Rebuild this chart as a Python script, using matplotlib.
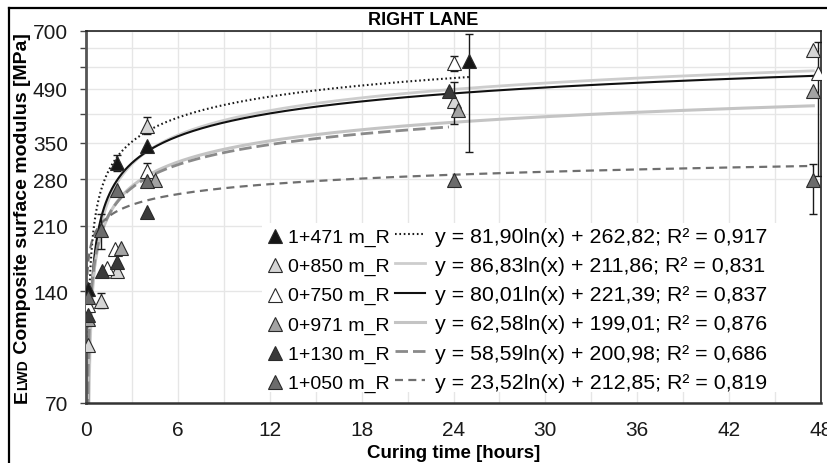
import numpy as np
import matplotlib
matplotlib.use("Agg")
import matplotlib.pyplot as plt
from matplotlib.lines import Line2D
from matplotlib.patches import Rectangle
from matplotlib.legend_handler import HandlerLine2D
from matplotlib.ticker import FixedLocator, NullLocator, MultipleLocator

plt.rcParams['font.family'] = ['Liberation Sans', 'DejaVu Sans']

# ---- data -------------------------------------------------------------
stations = ['1+471 m_R', '0+850 m_R', '0+750 m_R', '0+971 m_R', '1+130 m_R', '1+050 m_R']

# logarithmic trend coefficients  y = a*ln(x) + b
slopes = [81.90, 86.83, 80.01, 62.58, 58.59, 23.52]
intercepts = [262.82, 211.86, 221.39, 199.01, 200.98, 212.85]
r_squared = [0.917, 0.831, 0.837, 0.876, 0.686, 0.819]

# curing time [h] and measured modulus [MPa] per station
t_1471 = [0.1, 2.0, 4.0, 25.0]
e_1471 = [142, 309, 343, 580]
err_lo_1471 = [0, 15, 0, 250]
err_hi_1471 = [0, 15, 0, 107]

t_0850 = [0.1, 1.0, 2.0, 4.0, 24.0, 47.5]
e_0850 = [100, 132, 158, 390, 453, 622]
err_lo_0850 = [0, 6, 0, 20, 59, 0]
err_hi_0850 = [0, 6, 0, 20, 59, 0]

t_0750 = [0.1, 1.4, 1.9, 4.0, 24.0, 47.8]
e_0750 = [128, 161, 182, 295, 574, 539]
err_lo_0750 = [0, 0, 0, 14, 26, 254]
err_hi_0750 = [0, 0, 0, 14, 26, 115]

t_0971 = [0.1, 2.3, 4.5, 24.3, 47.5]
e_0971 = [118, 183, 278, 429, 482]
err_lo_0971 = [0, 0, 0, 0, 0]
err_hi_0971 = [0, 0, 0, 0, 0]

t_1130 = [0.1, 1.05, 2.0, 4.0, 23.7]
e_1130 = [121, 158, 168, 229, 482]
err_lo_1130 = [0, 0, 0, 0, 0]
err_hi_1130 = [0, 0, 0, 0, 0]

t_1050 = [0.1, 1.0, 2.0, 4.0, 24.0, 47.5]
e_1050 = [135, 204, 261, 276, 278, 278]
err_lo_1050 = [0, 22, 0, 0, 0, 52]
err_hi_1050 = [0, 22, 0, 0, 0, 29]

times = [t_1471, t_0850, t_0750, t_0971, t_1130, t_1050]
moduli = [e_1471, e_0850, e_0750, e_0971, e_1130, e_1050]
errs_lo = [err_lo_1471, err_lo_0850, err_lo_0750, err_lo_0971, err_lo_1130, err_lo_1050]
errs_hi = [err_hi_1471, err_hi_0850, err_hi_0750, err_hi_0971, err_hi_1130, err_hi_1050]

y_grid_values = [70, 140, 210, 280, 350, 420, 490, 560, 630, 700]
y_labelled = [70, 140, 210, 280, 350, 490, 700]
x_ticks = [0, 6, 12, 18, 24, 30, 36, 42, 48]

# ---- styles -------------------------------------------------------------
marker_colors = ['#161616', '#d6d6d6', '#ffffff', '#a3a3a3', '#3a3a3a', '#6c6c6c']
trend_styles = [
    dict(color='#1a1a1a', lw=1.5, ls=(0, (0.8, 1.3))),
    dict(color='#cdcdcd', lw=2.0, ls='-'),
    dict(color='#111111', lw=1.5, ls='-'),
    dict(color='#c4c4c4', lw=2.2, ls='-'),
    dict(color='#8a8a8a', lw=2.0, ls=(0, (4.5, 1.8))),
    dict(color='#6f6f6f', lw=1.6, ls=(0, (3.6, 2.4))),
]

W, H = 827, 464
AX_L, AX_R, AX_T, AX_B = 86, 821, 32, 404
fig = plt.figure(figsize=(W / 100, H / 100), dpi=100)
ax = fig.add_axes([AX_L / W, (H - AX_B) / H, (AX_R - AX_L) / W, (AX_B - AX_T) / H])


def ax_frac(px, py):
    """pixel position (from top-left of the image) -> axes fraction"""
    return (px - AX_L) / (AX_R - AX_L), (AX_B - py) / (AX_B - AX_T)


ax.set_yscale('log')
ax.set_ylim(70, 700)
ax.set_xlim(0, 48)

# trend curves
trend_handles = []
for k in range(len(stations)):
    xs = np.geomspace(0.02, max(times[k]), 600)
    ys = slopes[k] * np.log(xs) + intercepts[k]
    ys = np.maximum(ys, 1.0)
    line, = ax.plot(xs, ys, zorder=2, **trend_styles[k])
    trend_handles.append(line)

# measured points with error bars
marker_handles = []
for k in range(len(stations)):
    t = np.array(times[k])
    e = np.array(moduli[k], dtype=float)
    lo = np.array(errs_lo[k], dtype=float)
    hi = np.array(errs_hi[k], dtype=float)
    has = (lo > 0) | (hi > 0)
    if has.any():
        ax.errorbar(t[has], e[has], yerr=[lo[has], hi[has]], fmt='none',
                    ecolor='#1a1a1a', elinewidth=1.0, capsize=3, capthick=1.0,
                    zorder=3 + k * 0.1)
    h, = ax.plot(t, e, ls='none', marker='^', ms=10, mfc=marker_colors[k],
                 mec='#2a2a2a', mew=0.8, zorder=4 + k * 0.1)
    marker_handles.append(h)

# axes, ticks and grid
ax.yaxis.set_major_locator(FixedLocator(y_grid_values))
ax.yaxis.set_minor_locator(NullLocator())
ax.set_yticklabels([str(v) if v in y_labelled else '' for v in y_grid_values])
ax.xaxis.set_major_locator(FixedLocator(x_ticks))
ax.xaxis.set_minor_locator(MultipleLocator(3))
ax.set_xticklabels([str(v) for v in x_ticks])

ax.tick_params(axis='y', which='major', direction='out', length=4, width=1,
               color='#444444', labelsize=15, pad=9, labelcolor='#1a1a1a')
ax.tick_params(axis='x', which='both', length=0, labelsize=15, pad=12,
               labelcolor='#1a1a1a')
ax.grid(True, axis='y', which='major', color='#e6e6e6', lw=1.0)
ax.grid(True, axis='x', which='both', color='#e6e6e6', lw=1.0)
ax.set_axisbelow(True)

for side in ['top', 'right']:
    ax.spines[side].set_color('#222222')
    ax.spines[side].set_linewidth(1.2)
ax.spines['left'].set_color('#555555')
ax.spines['left'].set_linewidth(2.0)
ax.spines['bottom'].set_color('#333333')
ax.spines['bottom'].set_linewidth(1.8)

ax.set_xlabel('Curing time [hours]', fontsize=13.5, fontweight='bold', labelpad=4)

# white panel behind the legend
x0, y0 = ax_frac(262, 393)
x1, y1 = ax_frac(AX_R, 224)
ax.add_patch(Rectangle((x0, y0), x1 - x0, y1 - y0, transform=ax.transAxes,
                       facecolor='white', edgecolor='none', zorder=1.0))


# legend handlers: nudge handles down to the text's mid-height
class ShiftedLine(HandlerLine2D):
    shift = -2.0

    def create_artists(self, *args, **kwargs):
        artists = super().create_artists(*args, **kwargs)
        for a in artists:
            a.set_ydata(np.asarray(a.get_ydata(), dtype=float) + self.shift)
        return artists


class RightMarker(ShiftedLine):
    shift = -3.5

    def get_xdata(self, legend, xdescent, ydescent, width, height, fontsize):
        x = -xdescent + width - 2.2
        return np.array([x, x]), np.array([x])


equations = ['y = {:.2f}ln(x) + {:.2f}; R² = {:.3f}'.format(a, b, r).replace('.', ',')
             for a, b, r in zip(slopes, intercepts, r_squared)]
handler_map = {h: RightMarker() for h in marker_handles}
handler_map.update({h: ShiftedLine() for h in trend_handles})
leg = ax.legend(marker_handles + trend_handles, stations + equations, ncol=2,
                loc='upper left', bbox_to_anchor=ax_frac(248, 222), borderaxespad=0,
                fontsize=14, handlelength=1.54, handletextpad=0.51,
                handleheight=1.934, columnspacing=0.3, labelspacing=0.0,
                borderpad=0.0, frameon=False, handler_map=handler_map)
for txt in leg.get_texts()[len(stations):]:
    txt.set_fontsize(15.4)
leg.set_zorder(10)

# title
fig.text(423.5 / W, 1 - 25 / H, 'RIGHT LANE', ha='center', va='baseline',
         fontsize=13, fontweight='bold')

# y-axis label with small-caps subscript, assembled piecewise
renderer = fig.canvas.get_renderer()
pieces = [('E', 14), ('LWD', 10), (' Composite surface modulus [MPa]', 14)]
base_x = 27 / W
tmp = []
for txt, fs in pieces:
    t = fig.text(base_x, 0, txt, rotation=90, rotation_mode='anchor',
                 ha='left', va='baseline', fontsize=fs, fontweight='bold')
    tmp.append(t)
lengths = [t.get_window_extent(renderer).height for t in tmp]
total = sum(lengths)
y_start = (H - 218) - total / 2
pos = y_start
for t, L in zip(tmp, lengths):
    t.set_position((base_x, pos / H))
    pos += L

# outer frame (top and left edges)
fig.add_artist(Line2D([9 / W, 1.0], [1 - 9 / H, 1 - 9 / H], transform=fig.transFigure,
                      color='black', lw=1.6))
fig.add_artist(Line2D([9 / W, 9 / W], [0.0, 1 - 9 / H], transform=fig.transFigure,
                      color='black', lw=1.6))

fig.savefig('out.png', dpi=100)
